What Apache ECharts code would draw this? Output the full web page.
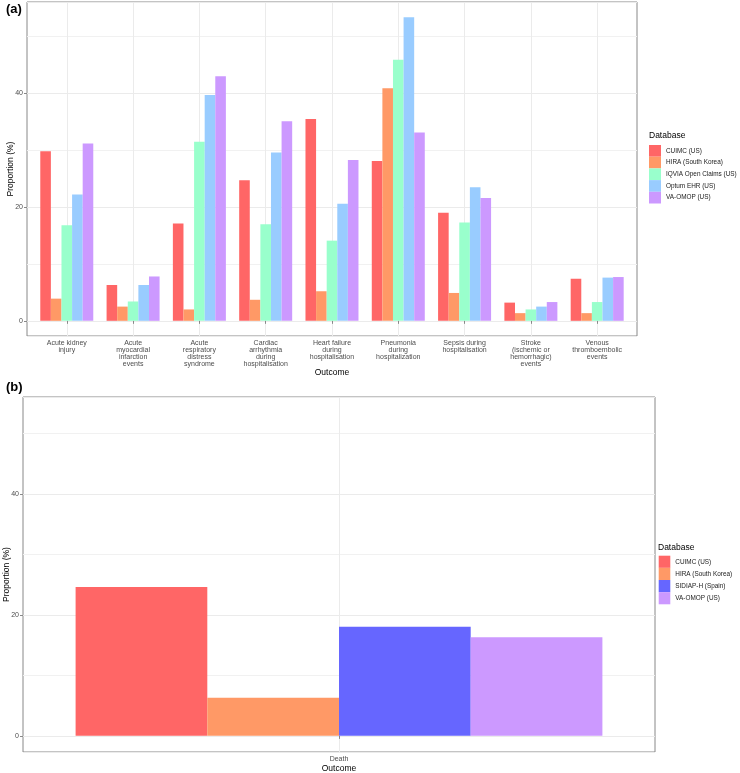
<!DOCTYPE html>
<html><head><meta charset="utf-8">
<script src="https://cdn.jsdelivr.net/npm/echarts@6/dist/echarts.min.js"></script>
<style>html,body{margin:0;padding:0;background:#fff}#c{width:740px;height:773px}</style>
</head><body><div id="c"></div>
<script>
// ---- Data (panel a) ----
const outcomesA = [
  'Acute kidney\ninjury',
  'Acute\nmyocardial\ninfarction\nevents',
  'Acute\nrespiratory\ndistress\nsyndrome',
  'Cardiac\narrhythmia\nduring\nhospitalisation',
  'Heart failure\nduring\nhospitalisation',
  'Pneumonia\nduring\nhospitalization',
  'Sepsis during\nhospitalisation',
  'Stroke\n(ischemic or\nhemorrhagic)\nevents',
  'Venous\nthromboembolic\nevents'
];
const databasesA = ['CUIMC (US)', 'HIRA (South Korea)', 'IQVIA Open Claims (US)', 'Optum EHR (US)', 'VA-OMOP (US)'];
const cuimcA  = [29.8, 6.3, 17.1, 24.7, 35.5, 28.1, 19.0, 3.2, 7.4];
const hiraA   = [3.9, 2.5, 2.0, 3.7, 5.2, 40.9, 4.9, 1.35, 1.35];
const iqviaA  = [16.8, 3.4, 31.5, 17.0, 14.1, 45.9, 17.3, 2.0, 3.3];
const optumA  = [22.2, 6.3, 39.7, 29.6, 20.6, 53.4, 23.5, 2.5, 7.6];
const vaA     = [31.2, 7.8, 43.0, 35.1, 28.3, 33.1, 21.6, 3.3, 7.7];

// ---- Data (panel b) ----
const outcomesB = ['Death'];
const databasesB = ['CUIMC (US)', 'HIRA (South Korea)', 'SIDIAP-H (Spain)', 'VA-OMOP (US)'];
const cuimcB  = [24.65];
const hiraB   = [6.3];
const sidiapB = [18.05];
const vaB     = [16.3];

const yTickLabels = [0, 20, 40];
const yMin = -2.67, yMax = 56.07;

// ---- Styles ----
const colors = {
  'CUIMC (US)': '#FF6666',
  'HIRA (South Korea)': '#FF9966',
  'IQVIA Open Claims (US)': '#99FFCC',
  'Optum EHR (US)': '#99CCFF',
  'VA-OMOP (US)': '#CC99FF',
  'SIDIAP-H (Spain)': '#6666FF'
};
const FONT = 'Liberation Sans, Arial, sans-serif';
const valuesA = [cuimcA, hiraA, iqviaA, optumA, vaA];
const valuesB = [cuimcB, hiraB, sidiapB, vaB];

function yAxisFrame(gi) {
  return {
    gridIndex: gi, type: 'value', min: yMin, max: yMax,
    minInterval: 20, maxInterval: 20,
    axisLine: { show: false },
    axisTick: { show: true, length: 3, lineStyle: { color: '#888' } },
    axisLabel: {
      fontSize: 7, color: '#4d4d4d', margin: 4, fontFamily: FONT,
      showMinLabel: false, showMaxLabel: false,
      formatter: v => yTickLabels.indexOf(v) >= 0 ? String(v) : ''
    },
    splitLine: { show: true, lineStyle: { color: '#ebebeb', width: 1 } },
    minorTick: { show: false, splitNumber: 2 },
    minorSplitLine: { show: true, lineStyle: { color: '#f1f1f1', width: 1 } },
    name: 'Proportion (%)', nameLocation: 'middle', nameGap: 12, nameMoveOverlap: false,
    nameTextStyle: { fontSize: 8.5, color: '#000', fontFamily: FONT }
  };
}
function catAxis(gi, data, nameGap) {
  return {
    gridIndex: gi, type: 'category', data: data,
    axisLine: { show: false },
    axisTick: { show: true, alignWithLabel: true, length: 3, lineStyle: { color: '#888' } },
    axisLabel: { interval: 0, fontSize: 7, lineHeight: 6.8, color: '#4d4d4d', margin: 4, fontFamily: FONT },
    splitLine: { show: true, alignWithLabel: true, interval: 0, lineStyle: { color: '#ebebeb' } },
    name: 'Outcome', nameLocation: 'middle', nameGap: nameGap, nameMoveOverlap: false,
    nameTextStyle: { fontSize: 8.5, color: '#000', fontFamily: FONT }
  };
}

const series = [];
databasesA.forEach((name, i) => {
  series.push({
    type: 'bar', name: name, xAxisIndex: 1, yAxisIndex: 1,
    data: valuesA[i], barWidth: 10.6, barGap: '0%',
    itemStyle: { color: colors[name] }
  });
});
databasesB.forEach((name, i) => {
  series.push({
    type: 'bar', name: name, xAxisIndex: 2, yAxisIndex: 2,
    data: valuesB[i], barWidth: 131.7, barGap: '0%',
    itemStyle: { color: colors[name] }
  });
});

const option = {
  animation: false,
  backgroundColor: '#fff',
  textStyle: { fontFamily: FONT },
  title: [
    { text: '(a)', left: 6, top: 3, padding: 0, textStyle: { fontSize: 13, fontWeight: 'bold', color: '#000', fontFamily: FONT } },
    { text: '(b)', left: 6, top: 381, padding: 0, textStyle: { fontSize: 13, fontWeight: 'bold', color: '#000', fontFamily: FONT } },
    { text: 'Database', left: 649, top: 131, padding: 0, textStyle: { fontSize: 8.5, fontWeight: 'normal', color: '#000', fontFamily: FONT } },
    { text: 'Database', left: 658, top: 543, padding: 0, textStyle: { fontSize: 8.5, fontWeight: 'normal', color: '#000', fontFamily: FONT } }
  ],
  legend: [
    { data: databasesA, orient: 'vertical', left: 649, top: 145, itemWidth: 12, itemHeight: 11.7, itemGap: 0,
      icon: 'rect', padding: 0, selectedMode: false, textStyle: { fontSize: 6.4, color: '#1a1a1a', fontFamily: FONT } },
    { data: databasesB, orient: 'vertical', left: 658.7, top: 555.7, itemWidth: 11.6, itemHeight: 12.15, itemGap: 0,
      icon: 'rect', padding: 0, selectedMode: false, textStyle: { fontSize: 6.4, color: '#1a1a1a', fontFamily: FONT } }
  ],
  grid: [
    { left: 27, top: 2, width: 610, height: 334, show: true, borderColor: '#888', borderWidth: 1, backgroundColor: 'transparent', outerBoundsMode: 'none', containLabel: false },
    { left: 33.63, top: 2, width: 596.7, height: 334, outerBoundsMode: 'none', containLabel: false },
    { left: 23, top: 397, width: 632, height: 355, show: true, borderColor: '#888', borderWidth: 1, backgroundColor: 'transparent', outerBoundsMode: 'none', containLabel: false }
  ],
  xAxis: [
    { gridIndex: 0, type: 'value', show: false, min: 0, max: 1 },
    catAxis(1, outcomesA, 32),
    catAxis(2, outcomesB, 12)
  ],
  yAxis: [
    yAxisFrame(0),
    { gridIndex: 1, type: 'value', min: yMin, max: yMax, show: false },
    yAxisFrame(2)
  ],
  series: series
};

const chart = echarts.init(document.getElementById('c'), null, { renderer: 'canvas' });
chart.setOption(option);
</script>
</body></html>
